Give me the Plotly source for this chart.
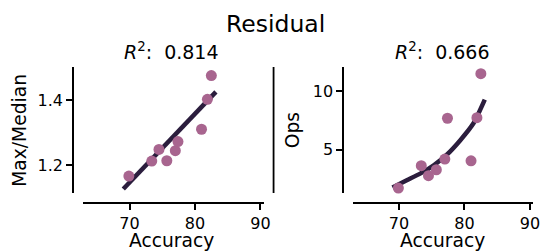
import plotly.graph_objects as go

# ---- data ----
accuracy = [69.9, 73.4, 74.5, 75.7, 77.0, 77.4, 81.0, 81.9, 82.5]
max_median = [1.166, 1.212, 1.248, 1.213, 1.244, 1.272, 1.310, 1.402, 1.475]
ops = [1.71, 3.63, 2.77, 3.28, 4.20, 7.69, 4.05, 7.74, 11.51]

fit_x = [69.05, 76.1, 83.2]
fit_max_median = [1.126, 1.276, 1.425]
fit_x_ops = [69.0, 71.26, 73.3, 75.3, 77.3, 79.3, 81.4, 83.1]
fit_ops = [1.77, 2.40, 2.97, 3.66, 4.57, 5.77, 7.28, 9.28]

titles = ["<i>R</i><sup>2</sup>:\u00a0 0.814", "<i>R</i><sup>2</sup>:\u00a0 0.666"]
x_ticks = [70, 80, 90]
y1_ticks = [1.2, 1.4]
y2_ticks = [5, 10]

W, H = 549, 252
FONT = "DejaVu Sans"
PT = "#a8658f"
LN = "#2b1d3d"

def px(x):
    return x / W

def py(y):
    return 1 - y / H

fig = go.Figure()

fig.add_trace(go.Scatter(x=fit_x, y=fit_max_median, mode="lines", line=dict(color=LN, width=4.5),
                         xaxis="x", yaxis="y", showlegend=False, cliponaxis=False))
fig.add_trace(go.Scatter(x=accuracy, y=max_median, mode="markers",
                         marker=dict(color=PT, size=11, line=dict(width=0)),
                         xaxis="x", yaxis="y", showlegend=False, cliponaxis=False))
fig.add_trace(go.Scatter(x=fit_x_ops, y=fit_ops, mode="lines",
                         line=dict(color=LN, width=4.5, shape="spline", smoothing=0.6),
                         xaxis="x2", yaxis="y2", showlegend=False, cliponaxis=False))
fig.add_trace(go.Scatter(x=accuracy, y=ops, mode="markers",
                         marker=dict(color=PT, size=11, line=dict(width=0)),
                         xaxis="x2", yaxis="y2", showlegend=False, cliponaxis=False))

axcommon = dict(showgrid=False, zeroline=False, showline=True, linecolor="black", linewidth=1.8,
                ticks="outside", ticklen=6, tickwidth=1.8, tickcolor="black",
                tickfont=dict(family=FONT, size=16, color="black"))

xr = [62.9, 90.5]
fig.update_layout(
    width=W, height=H, margin=dict(l=0, r=0, t=0, b=0),
    paper_bgcolor="white", plot_bgcolor="white",
    font=dict(family=FONT, color="black"),
    xaxis=dict(domain=[px(76), px(259)], range=xr, anchor="free", position=py(195),
               tickvals=x_ticks, **axcommon),
    yaxis=dict(domain=[py(185), py(59)], range=[1.1138, 1.5015], anchor="free", position=px(66),
               tickvals=y1_ticks, ticktext=["1.2", "1.4"], **axcommon),
    xaxis2=dict(domain=[px(349), px(532)], range=xr, anchor="free", position=py(195),
                tickvals=x_ticks, **axcommon),
    yaxis2=dict(domain=[py(185), py(59)], range=[1.29, 12.08], anchor="free", position=px(339.5),
                tickvals=y2_ticks, **axcommon),
)

shapes = []
for xx in (269, 542):
    shapes.append(dict(type="line", xref="paper", yref="paper", x0=px(xx), x1=px(xx),
                       y0=py(185), y1=py(59), line=dict(color="black", width=1.8)))
fig.update_layout(shapes=shapes)

ann = []
ann.append(dict(text="Residual", x=px(271), y=py(16), xref="paper", yref="paper",
                showarrow=False, font=dict(size=23.5, family=FONT), xanchor="center", yanchor="middle"))
for cx, t in ((166, titles[0]), (440, titles[1])):
    ann.append(dict(text=t, x=px(cx), y=py(42.5), xref="paper", yref="paper",
                    showarrow=False, font=dict(size=19, family=FONT), xanchor="center", yanchor="middle"))
    ann.append(dict(text="Accuracy", x=px(cx), y=py(232), xref="paper", yref="paper",
                    showarrow=False, font=dict(size=18.7, family=FONT), xanchor="center", yanchor="middle"))
ann.append(dict(text="Max/Median", x=px(11), y=py(122), xref="paper", yref="paper", textangle=-90,
                showarrow=False, font=dict(size=18.7, family=FONT), xanchor="center", yanchor="middle"))
ann.append(dict(text="Ops", x=px(288), y=py(122), xref="paper", yref="paper", textangle=-90,
                showarrow=False, font=dict(size=18.7, family=FONT), xanchor="center", yanchor="middle"))
fig.update_layout(annotations=ann)

fig.write_html("out.html")
